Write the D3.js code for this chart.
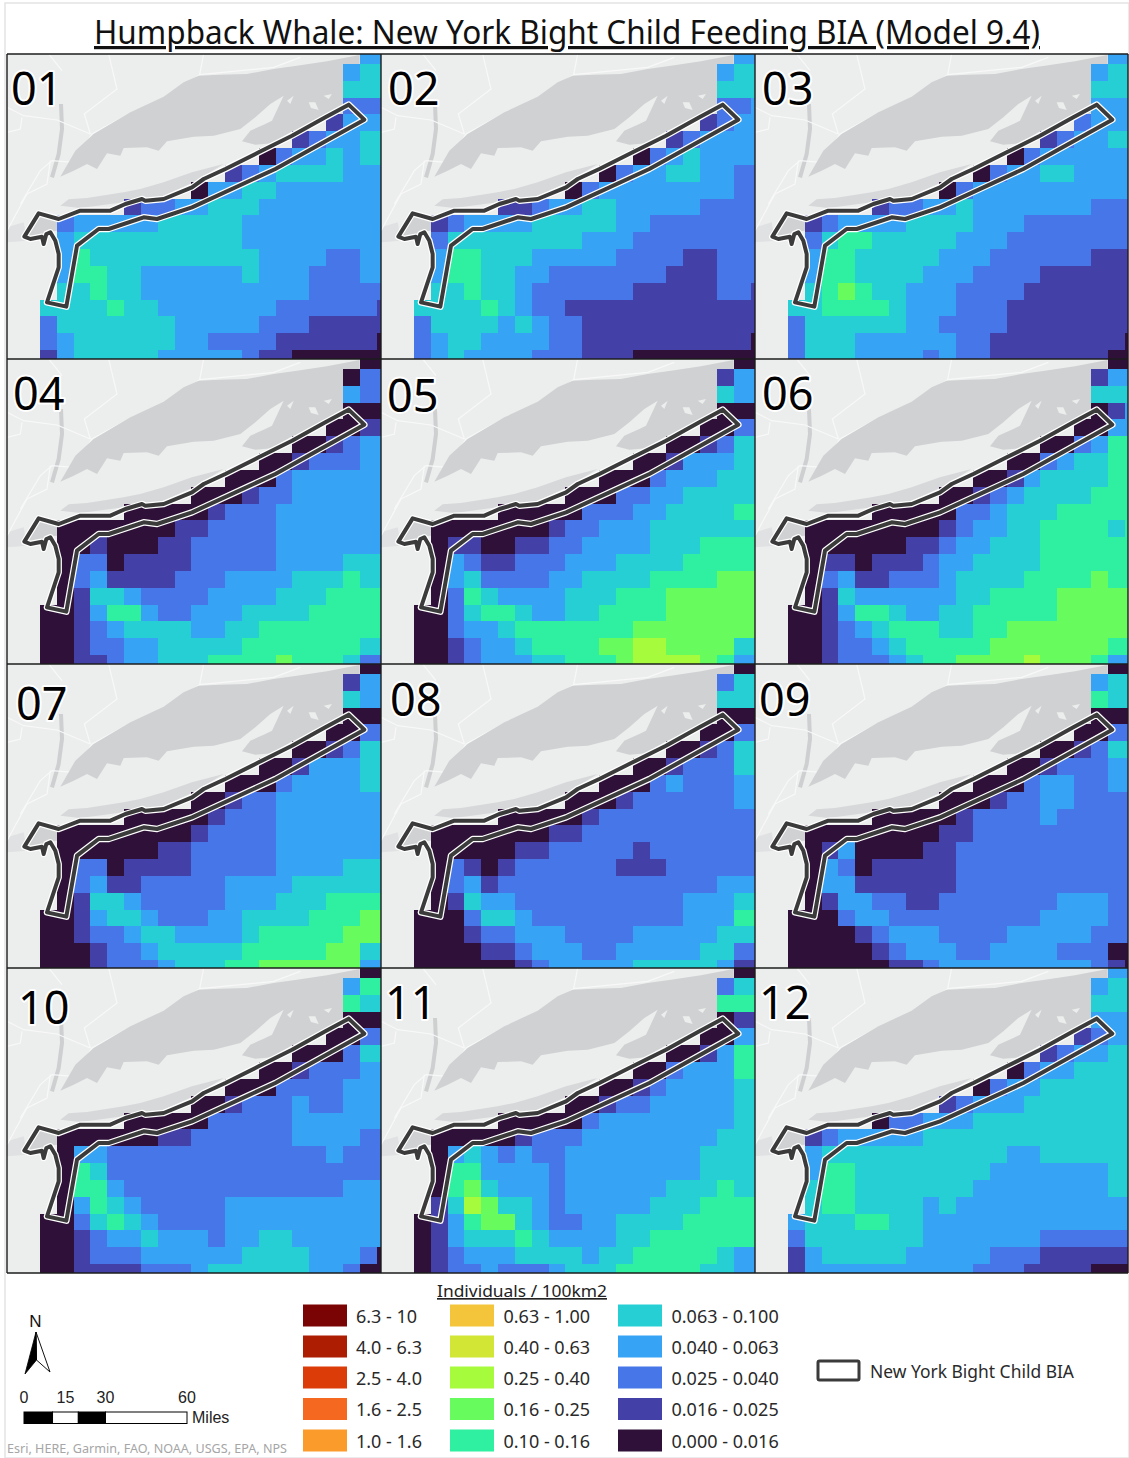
<!DOCTYPE html>
<html><head><meta charset="utf-8">
<style>html,body{margin:0;padding:0;background:#fff}svg{display:block}
text{font-family:"Noto Sans",sans-serif;text-decoration-skip-ink:none}</style>
<script src="https://cdn.jsdelivr.net/npm/d3@7"></script></head><body>
<svg id="c" width="1129" height="1458"></svg>
<script>
// Legend classes, low to high. Each cell below stores the class index it falls in.
const classLabels=["0.000 - 0.016","0.016 - 0.025","0.025 - 0.040","0.040 - 0.063","0.063 - 0.100",
 "0.10 - 0.16","0.16 - 0.25","0.25 - 0.40","0.40 - 0.63","0.63 - 1.00",
 "1.0 - 1.6","1.6 - 2.5","2.5 - 4.0","4.0 - 6.3","6.3 - 10"];
const classColors=["#2e1038","#4341a8","#4676e8","#36a3f5","#25cfd4","#2ff0a0","#68fb5e","#a7fb3d","#d2e635","#f4c53a","#fb9b2c","#f4691f","#dc3d08","#ad1d02","#7a0403"];
const panelNames=["01","02","03","04","05","06","07","08","09","10","11","12"];
// first water column in each raster row
const rowStart=[19,18,18,18,17,15,13,11,9,5,1,1,1,1,1,0,0,0,0];

const panel01=["33","344","444","222","1333","123344","02334344","1234444333","033443333333","1223344433333333","23333344444333333333","34444444444333333333","35444444444433332233","35544333333433322233","44544333333333322222","444454433333332222221","244444443333322211111","234444443322221111110","134444433333211000000"];
const panel02=["33","344","444","223","1233","123333","02343333","0233443322","023333333322","1123344333332222","12333344444332222222","24444444433322222222","35544433333222211222","35544332222222111222","44544322222211111221","444454322111111111111","244443432211111111111","234433332211111111110","234333322211100000000"];
const panel03=["33","344","444","333","2333","123344","02333333","0233443333","023333333333","1223343333333222","12333344443332222222","24554444433322222222","35544444333222222111","35544443332222111111","45654433322221111111","445555433322211111111","244444433222211111111","244433333322111111110","244433332322111111100"];
const panel04=["00","022","322","000","0011","001233","00122233","0002333333","000122333333","0000012223333333","00000001122223333333","00100011222223333333","02201111222223333444","02311112223333444544","01443222233334445555","001355322333444455555","001234444334455555555","001223344444555555544","001123344455556555422"];
const panel05=["00","133","433","000","0022","001244","00133344","0002333444","000223344444","0000022233444455","00000001223334444444","01100112233334445555","03211222333444455555","03422223344445555666","02543333444555666666","002455433445555666666","002334555555566666666","001233455556677666644","001233344555677776533"];
const panel06=["00","133","444","013","0033","002355","00234455","0013444455","001234444555","0000022344455555","00000000123344555545","00000011233444555555","01101112334444555555","02311222344445555655","01433333344555566666","001355433445555566666","001234555445566666666","001223455555666666655","001222345566667666533"];
const panel07=["00","133","433","000","0022","001244","00133344","0002333344","001223333333","0000012223333333","00000000122223333333","00000011222223333333","02201111222223333444","02311222223333444444","01443222223334445555","001344322233444455566","001223443333455555666","000122344444555556644","000122234445566666633"];
const panel08=["00","244","444","000","0022","001244","00122244","0002322233","000122222233","0000012222222222","00000001122222222222","00000112222212222222","02101222222111222222","02312222222222222333","01433222222222233344","000244322222222233355","000122333222233333444","000011233322333334422","000000123333344444311"];
const panel09=["00","344","544","000","0022","001244","00122233","0002332233","000122332222","0000012222322222","00000000112222222222","01300001122222222222","03201111122222222222","03311111122222222222","01332211222222233322","000233222222222333322","000012333222233333222","000001233322333322200","000000112333333333210"];
const panel10=["00","355","544","000","0022","000244","00122233","0002222333","001222322333","0000022222333333","00000011222222333322","03322222222222223222","05422222222222222222","05532222222222222333","03543222223333333333","002454322223333333333","001233433323344333333","001222333333444433320","001111222344444433200"];
const panel11=["00","244","555","011","0033","001355","00233355","0012333344","001223333344","0000023333333344","00000122233333333444","03432322333333334444","05533332333333334444","05643332333333444544","14764432333334445555","013566432233444455555","013444543333445555555","012333444434455555433","012232223444555554433"];
const panel12=["33","344","444","333","1233","123344","02334444","0233444444","123334444444","0223334444444444","12333334444444444444","34444444444433444444","35544444444333333344","45544444443333333344","45544443433333333333","344455443333333333333","244444443333333222222","134444433333222111111","133333333332221111000"];
const panels=[panel01,panel02,panel03,panel04,panel05,panel06,panel07,panel08,panel09,panel10,panel11,panel12];

// Map geometry in map units (1125 x 915 per panel)
const biaOutline=[[1025,152],[955,190],[855,245],[755,295],[655,345],[590,375],[555,400],[470,435],[415,440],[405,435],[355,450],[310,470],[220,470],[155,495],[95,478],[52,548],[70,555],[105,548],[110,570],[118,540],[130,535],[145,560],[155,600],[155,640],[120,745],[178,758],[210,575],[275,525],[305,525],[410,490],[450,495],[555,460],[805,345],[1072,197]];
const shapeSoundMass=[[575,65],[640,62],[720,60],[800,45],[870,35],[960,22],[1058,3],[1058,150],[1010,178],[950,200],[880,225],[855,232],[795,268],[745,272],[705,262],[730,230],[775,210],[795,200],[830,125],[790,150],[745,190],[700,225],[620,245],[560,248],[480,262],[455,290],[420,280],[350,282],[340,305],[300,298],[270,345],[240,330],[200,350],[160,368],[205,290],[260,240],[370,175],[470,128],[530,85]];
const shapeFlecks=[[[905,145],[925,145],[935,168],[912,162]],[[840,140],[860,125],[850,150]],[[950,125],[975,120],[965,135]]];
const shapeBarrier=[[160,455],[185,436],[240,432],[350,415],[400,405],[470,385],[555,355],[650,330],[560,385],[470,425],[350,445],[220,462]];
const shapeHarbor=[[95,480],[150,497],[150,530],[128,532],[110,560],[60,552]];
const shapeNarrows=[[0,520],[50,505],[60,560],[0,565]];
const lineRiver=[[162,150],[165,225],[155,300],[135,370]];
const linesRoad=[[[590,0],[578,62],[480,130],[380,172],[255,240],[200,325],[135,320],[100,350],[40,450]],[[0,160],[50,185],[150,198],[250,240]],[[305,0],[330,105],[232,180],[250,240]],[[125,0],[165,50]],[[578,62],[800,40],[880,10]],[[45,190],[40,225],[0,235]],[[130,320],[120,390],[60,420],[0,530]]];

// Page layout values
const columnEdges=[7,381,755,1128],rowEdges=[54,359,664,968,1273];
const labelPos=[[11,105],[388,105],[762,105],[13,410],[387,412],[762,410],[16,720],[390,716],[759,716],[18,1024],[385,1019],[759,1019]];

const svg=d3.select("#c");
svg.append("rect").attr("x",5).attr("y",3).attr("width",1124).attr("height",1455).attr("fill","#fff").attr("stroke","#e4e4e4").attr("stroke-width",1.5);

const mx=d3.scaleLinear().domain([0,1125]).range([0,375]);
const my=d3.scaleLinear().domain([0,915]).range([0,305]);
const line=d3.line().x(d=>mx(d[0])).y(d=>my(d[1]));
const area=d3.line().x(d=>mx(d[0])).y(d=>my(d[1])).curve(d3.curveLinearClosed);
const cellX=d3.scaleLinear().domain([0,21]).range([33,33+21*16.83]);
const cellY=d3.scaleLinear().domain([1,20]).range([10,10+19*16.83]);
const colour=d3.scaleOrdinal().domain(d3.range(classColors.length)).range(classColors);

const defs=svg.append("defs");
panels.forEach((rows,i)=>{
  const col=i%3,row=Math.floor(i/3);
  const x0=columnEdges[col],y0=rowEdges[row],w=columnEdges[col+1]-x0,h=rowEdges[row+1]-y0;
  defs.append("clipPath").attr("id","p"+i).append("rect").attr("width",w).attr("height",h);
  const g=svg.append("g").attr("transform",`translate(${x0},${y0})`).attr("clip-path",`url(#p${i})`);
  g.append("rect").attr("width",w).attr("height",h).attr("fill","#eceded");
  g.append("path").attr("d",area(shapeNarrows)).attr("fill","#e0e1e2");
  g.append("path").attr("d",line(lineRiver)).attr("fill","none").attr("stroke","#cdcfd0").attr("stroke-width",4);
  g.selectAll(".road").data(linesRoad).join("path").attr("d",line).attr("fill","none").attr("stroke","#f8f8f8").attr("stroke-width",1.2);
  g.append("path").attr("d",area(shapeSoundMass)).attr("fill","#cfd1d2");
  g.selectAll(".fleck").data(shapeFlecks).join("path").attr("d",area).attr("fill","#eceded");
  g.append("path").attr("d",area(shapeBarrier)).attr("fill","#d6d8d9");
  g.append("path").attr("d",area(shapeHarbor)).attr("fill","#cfd1d2");
  const cells=rows.flatMap((s,r)=>Array.from(s,(ch,k)=>({r,c:rowStart[r]+k,v:+ch})));
  g.selectAll(".cell").data(cells).join("rect")
    .attr("x",d=>cellX(d.c)).attr("y",d=>cellY(d.r))
    .attr("width",cellX(1)-cellX(0)+.6).attr("height",cellY(2)-cellY(1)+.6)
    .attr("shape-rendering","crispEdges")
    .attr("fill",d=>colour(d.v));
  const bia=area(biaOutline);
  g.append("path").attr("d",bia).attr("fill","none").attr("stroke","#fff").attr("stroke-width",6.5).attr("stroke-linejoin","round");
  g.append("path").attr("d",bia).attr("fill","none").attr("stroke","#3b3b3b").attr("stroke-width",4).attr("stroke-linejoin","round");
});
// panel frames
svg.selectAll(".vf").data(columnEdges).join("line").attr("x1",d=>d).attr("x2",d=>d).attr("y1",54).attr("y2",1273).attr("stroke","#1c1c1c").attr("stroke-width",1.4);
svg.selectAll(".hf").data(rowEdges).join("line").attr("y1",d=>d).attr("y2",d=>d).attr("x1",7).attr("x2",1128).attr("stroke","#1c1c1c").attr("stroke-width",1.4);
// month labels
svg.selectAll(".lab").data(panelNames).join("text").text(d=>d)
  .attr("x",(d,i)=>labelPos[i][0]).attr("y",(d,i)=>labelPos[i][1])
  .attr("font-size",45).attr("fill","#000").attr("stroke","#fff").attr("stroke-width",4).attr("stroke-linejoin","round").attr("paint-order","stroke");
// title
svg.append("text").attr("x",94).attr("y",44).attr("font-size",32).attr("fill","#111")
  .attr("text-decoration","underline").attr("textLength",946).attr("lengthAdjust","spacingAndGlyphs")
  .text("Humpback Whale: New York Bight Child Feeding BIA (Model 9.4)");
// class legend
svg.append("text").attr("x",437).attr("y",1297).attr("font-size",16.5).attr("fill","#222").attr("text-decoration","underline")
  .attr("textLength",170).attr("lengthAdjust","spacingAndGlyphs").text("Individuals / 100km2");
const legendX=[303,450,618],legendTextX=[356,503.5,671.5],legendY=[1304.5,1335.5,1366.5,1398,1429.5];
const legendOrder=d3.range(14,-1,-1);
const lg=svg.selectAll(".lg").data(legendOrder).join("g").attr("transform",(d,i)=>`translate(0,${legendY[i%5]})`);
lg.append("rect").attr("x",(d,i)=>legendX[Math.floor(i/5)]).attr("width",44).attr("height",22).attr("fill",d=>colour(d));
lg.append("text").attr("x",(d,i)=>legendTextX[Math.floor(i/5)]).attr("y",18).attr("font-size",18).attr("fill","#2a2a2a").text(d=>classLabels[d]);
// BIA key
svg.append("rect").attr("x",818).attr("y",1361).attr("width",41).attr("height",19).attr("rx",1.5).attr("fill","#fff").attr("stroke","#3b3b3b").attr("stroke-width",3);
svg.append("text").attr("x",870).attr("y",1378).attr("font-size",18).attr("fill","#2a2a2a").attr("textLength",204).attr("lengthAdjust","spacingAndGlyphs").text("New York Bight Child BIA");
// north arrow
svg.append("text").attr("x",35.5).attr("y",1327).attr("text-anchor","middle").attr("font-size",17).style("font-family","Liberation Sans").attr("fill","#111").text("N");
svg.append("path").attr("d","M36,1332L50,1372L36.5,1360Z").attr("fill","#fff").attr("stroke","#111").attr("stroke-width",1);
svg.append("path").attr("d","M36,1332L25,1374L36.5,1360Z").attr("fill","#000").attr("stroke","#000").attr("stroke-width",.8);
// scale bar
const milesTicks=[0,15,30,60];
const miles=d3.scaleLinear().domain([0,60]).range([24,187]);
svg.selectAll(".sb").data([[0,10.5,1],[10.5,20,0],[20,30,1],[30,60,0]]).join("rect")
  .attr("x",d=>miles(d[0])).attr("y",1412).attr("width",d=>miles(d[1])-miles(d[0])).attr("height",11.5)
  .attr("fill",d=>d[2]?"#000":"#fff").attr("stroke","#000").attr("stroke-width",1);
svg.selectAll(".st").data(milesTicks).join("text").text(d=>d).attr("x",d=>d===15?65.5:miles(d)).attr("y",1403).attr("text-anchor","middle")
  .attr("font-size",16).style("font-family","Liberation Sans").attr("fill","#222");
svg.append("text").attr("x",192).attr("y",1423).attr("font-size",16).style("font-family","Liberation Sans").attr("fill","#222").text("Miles");
// attribution
svg.append("text").attr("x",7).attr("y",1453).attr("font-size",12).attr("fill","#a6a6a6").attr("textLength",280).attr("lengthAdjust","spacingAndGlyphs").text("Esri, HERE, Garmin, FAO, NOAA, USGS, EPA, NPS");
</script></body></html>
